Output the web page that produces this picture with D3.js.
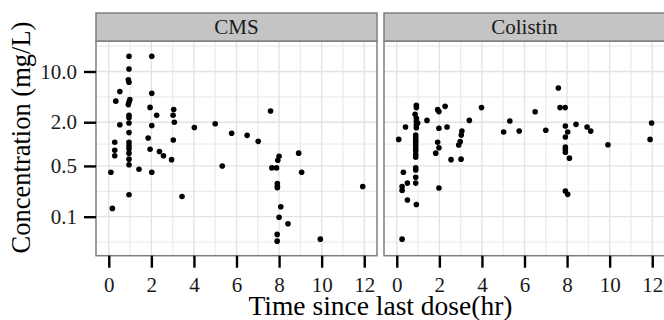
<!DOCTYPE html>
<html>
<head>
<meta charset="utf-8">
<script src="https://cdn.jsdelivr.net/npm/d3@7"></script>
<style>
body { margin: 0; background: #fff; }
svg text { font-family: "Liberation Serif", "Times New Roman", serif; }
</style>
</head>
<body>
<svg id="chart" width="664" height="320"></svg>
<script>
// facets
const panelNames = ['CMS', 'Colistin'];

// [time since last dose (hr), concentration (mg/L)]
const cmsData = [
	[0.95,16.2],[2.02,16.2],[0.95,10.8],[0.92,7.7],[0.95,7.1],[0.52,5.3],[0.33,3.9],[0.99,4.1],
	[0.95,3.8],[0.92,3.5],[2.02,5.0],[1.94,3.2],[2.25,2.5],[3.05,3.0],[3.02,2.5],[3.08,2.0],
	[0.95,2.5],[0.95,2.3],[0.95,1.95],[0.52,1.85],[2.02,1.8],[4.02,1.69],[5.0,1.91],[5.77,1.41],
	[6.5,1.32],[0.95,1.44],[1.85,1.21],[3.03,1.14],[0.28,1.06],[0.95,1.06],[0.95,0.95],[0.95,0.86],
	[0.28,0.82],[0.28,0.69],[1.94,0.85],[2.38,0.79],[2.57,0.69],[0.95,0.75],[0.95,0.62],[0.95,0.52],
	[2.95,0.61],[1.42,0.45],[0.1,0.41],[2.02,0.41],[5.33,0.50],[0.95,0.20],[3.44,0.19],[0.17,0.13],
	[7.6,2.86],[7.02,1.09],[8.92,0.75],[8.0,0.68],[7.94,0.60],[7.66,0.47],[7.88,0.47],[9.06,0.41],
	[7.92,0.285],[7.92,0.26],[7.92,0.25],[11.93,0.26],[8.08,0.137],[8.0,0.098],[8.42,0.080],
	[7.91,0.057],[7.91,0.046],[9.94,0.049]
];

const colistinData = [
	[0.09,1.16],[0.41,1.72],[0.92,3.42],[0.92,3.18],[0.86,2.57],[0.92,2.27],[0.92,2.04],[0.98,1.95],
	[0.92,1.83],[0.92,1.68],[0.89,1.33],[0.89,1.23],[0.89,1.13],[0.89,1.04],[0.89,0.95],[0.89,0.87],
	[0.89,0.80],[0.89,0.72],[0.89,0.66],[0.89,0.47],[0.89,0.44],[0.89,0.35],[0.89,0.29],[1.42,2.12],
	[1.92,2.98],[1.98,2.8],[2.27,3.31],[1.98,1.65],[2.36,1.72],[1.92,1.06],[1.98,0.89],[1.83,0.75],
	[2.55,0.61],[3.02,0.62],[3.06,1.51],[3.03,1.33],[2.98,1.08],[2.91,0.97],[3.41,2.12],[3.98,3.18],
	[5.02,1.47],[5.31,2.08],[5.75,1.51],[0.31,0.41],[0.25,0.26],[0.25,0.23],[0.5,0.29],[0.5,0.17],
	[0.92,0.147],[1.98,0.248],[0.25,0.049],
	[7.59,5.93],[6.5,2.79],[7.67,3.18],[7.91,3.18],[7.0,1.55],[7.92,1.77],[8.42,1.87],[8.03,1.47],
	[7.92,1.25],[8.94,1.72],[9.11,1.51],[7.92,0.91],[7.92,0.84],[7.92,0.77],[8.11,0.64],[9.92,0.98],
	[11.97,1.95],[11.9,1.16],[7.92,0.226],[8.03,0.203]
];

const xTicks = [0, 2, 4, 6, 8, 10, 12];
const xMinorTicks = [1, 3, 5, 7, 9, 11];
const yTicks = [0.1, 0.5, 2, 10];
const yTickLabels = ['0.1', '0.5', '2.0', '10.0'];
const xLimits = [-0.6, 12.6];
const yLimits = [0.029, 26.3];

const xTitle = 'Time since last dose(hr)';
const yTitle = 'Concentration (mg/L)';

//////// LAYOUT ////////
const font = '"Liberation Serif", "Times New Roman", serif';
const panelTop = 41, panelBottom = 255.7, panelW = 281, panelGap = 7, panelLeft = 96, stripH = 28;

const svg = d3.select('#chart');

const x = d3.scaleLinear().domain(xLimits).range([0, panelW]);
const y = d3.scaleLog().domain(yLimits).range([panelBottom, panelTop]);

// minor y breaks: midpoints between majors in log space (ggplot style)
let lb = yTicks.map(Math.log10);
let step = lb[1] - lb[0];
lb = [lb[0] - step, ...lb, lb[lb.length - 1] + step];
let yMinor = [];
for (let i = 0; i < lb.length - 1; i++) {
	let m = Math.pow(10, (lb[i] + lb[i + 1]) / 2);
	if (m > yLimits[0] && m < yLimits[1]) yMinor.push(m);
}

const allData = [cmsData, colistinData];

panelNames.forEach((name, i) => {
	let g = svg.append('g').attr('transform', `translate(${panelLeft + i * (panelW + panelGap)},0)`);

	g.append('rect')
		.attr('x', 0).attr('y', panelTop)
		.attr('width', panelW).attr('height', panelBottom - panelTop)
		.attr('fill', '#fff');

	// grid
	g.selectAll('.ymin').data(yMinor).enter().append('line')
		.attr('x1', 0).attr('x2', panelW)
		.attr('y1', d => y(d)).attr('y2', d => y(d))
		.attr('stroke', '#ececec').attr('stroke-width', 1.3);
	g.selectAll('.xmin').data(xMinorTicks).enter().append('line')
		.attr('x1', d => x(d)).attr('x2', d => x(d))
		.attr('y1', panelTop).attr('y2', panelBottom)
		.attr('stroke', '#ececec').attr('stroke-width', 1.3);
	g.selectAll('.ymaj').data(yTicks).enter().append('line')
		.attr('x1', 0).attr('x2', panelW)
		.attr('y1', d => y(d)).attr('y2', d => y(d))
		.attr('stroke', '#e2e2e2').attr('stroke-width', 1.3);
	g.selectAll('.xmaj').data(xTicks).enter().append('line')
		.attr('x1', d => x(d)).attr('x2', d => x(d))
		.attr('y1', panelTop).attr('y2', panelBottom)
		.attr('stroke', '#e2e2e2').attr('stroke-width', 1.3);

	// points
	g.selectAll('circle').data(allData[i]).enter().append('circle')
		.attr('cx', d => x(d[0]))
		.attr('cy', d => y(d[1]))
		.attr('r', 2.8)
		.attr('fill', '#000');

	// panel border
	g.append('rect')
		.attr('x', 0).attr('y', panelTop)
		.attr('width', panelW).attr('height', panelBottom - panelTop)
		.attr('fill', 'none').attr('stroke', '#7f7f7f').attr('stroke-width', 1.5);

	// strip
	g.append('rect')
		.attr('x', 0).attr('y', panelTop - stripH)
		.attr('width', panelW).attr('height', stripH)
		.attr('fill', '#c4c4c4').attr('stroke', '#7f7f7f').attr('stroke-width', 1.5);
	g.append('text')
		.attr('x', panelW / 2).attr('y', 34.3)
		.attr('text-anchor', 'middle')
		.attr('font-family', font).style('font-size', '21px').attr('fill', '#1a1a1a')
		.text(name);

	// x axis
	let xAxis = d3.axisBottom(x).tickValues(xTicks).tickSize(12).tickPadding(9).tickFormat(d3.format('d'));
	let ax = g.append('g').attr('transform', `translate(0,${panelBottom})`).call(xAxis);
	ax.attr('font-family', font);
	ax.select('.domain').remove();
	ax.selectAll('line').attr('stroke', '#000').attr('stroke-width', 2.4);
	ax.selectAll('text').style('font-size', '21px').attr('fill', '#1a1a1a');

	// y axis only on first panel
	if (i == 0) {
		let yAxis = d3.axisLeft(y).tickValues(yTicks).tickSize(12).tickPadding(7)
			.tickFormat((d, j) => yTickLabels[j]);
		let ay = g.append('g').call(yAxis);
		ay.attr('font-family', font);
		ay.select('.domain').remove();
		ay.selectAll('line').attr('stroke', '#000').attr('stroke-width', 2.4);
		ay.selectAll('text').style('font-size', '21px').attr('fill', '#1a1a1a');
	}
});

// axis titles
svg.append('text')
	.attr('x', panelLeft + panelW + panelGap / 2).attr('y', 315)
	.attr('text-anchor', 'middle')
	.attr('font-family', font).style('font-size', '27.5px')
	.text(xTitle);

svg.append('text')
	.attr('transform', 'translate(30,137.5) rotate(-90)')
	.attr('text-anchor', 'middle')
	.attr('font-family', font).style('font-size', '26.5px')
	.text(yTitle);
</script>
</body>
</html>
